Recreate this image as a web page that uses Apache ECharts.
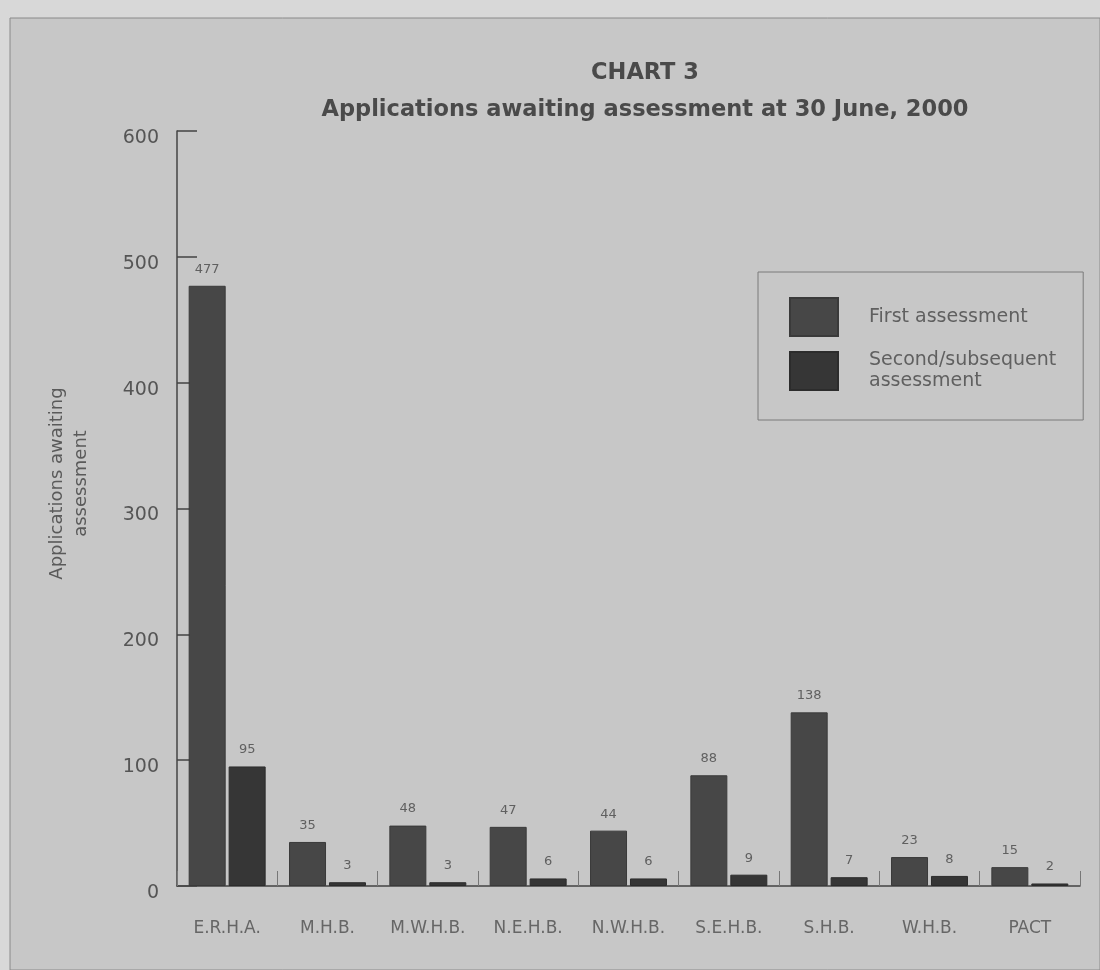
<!DOCTYPE html>
<html>
<head>
<meta charset="utf-8">
<title>Chart 3</title>
<script src="https://cdn.jsdelivr.net/npm/echarts@6/dist/echarts.min.js"></script>
<style>
  html, body { margin: 0; padding: 0; background: #d8d8d8; }
  #myChart { width: 1100px; height: 970px; }
</style>
</head>
<body>
<div id="myChart"></div>
<script>
var categories = ['E.R.H.A.', 'M.H.B.', 'M.W.H.B.', 'N.E.H.B.', 'N.W.H.B.', 'S.E.H.B.', 'S.H.B.', 'W.H.B.', 'PACT'];
var firstAssessment = [477, 35, 48, 47, 44, 88, 138, 23, 15];
var secondAssessment = [95, 3, 3, 6, 6, 9, 7, 8, 2];
var yTicks = [0, 100, 200, 300, 400, 500, 600];

var myChart = echarts.init(document.getElementById('myChart'));

// label above each bar
var barLabel = {
  show: true,
  position: 'top',
  distance: 10,
  color: '#606060',
  fontSize: 13,
  fontFamily: 'DejaVu Sans'
};

var option = {
  backgroundColor: '#d8d8d8',
  animation: false,
  textStyle: { fontFamily: 'DejaVu Sans' },
  graphic: [
    {
      type: 'rect',
      z: -10,
      shape: { x: 10, y: 18, width: 1090, height: 952 },
      style: { fill: '#c7c7c7', stroke: '#8a8a8a', lineWidth: 1 }
    }
  ],
  title: {
    text: 'CHART 3\nApplications awaiting assessment at 30 June, 2000',
    left: 640,
    top: 50,
    textAlign: 'center',
    textStyle: {
      fontFamily: 'DejaVu Sans',
      fontSize: 22.5,
      fontWeight: 'bold',
      color: '#4a4a4a',
      lineHeight: 37
    }
  },
  legend: {
    left: 758,
    top: 272,
    orient: 'vertical',
    data: ['First assessment', 'Second/subsequent\nassessment'],
    itemWidth: 48,
    itemHeight: 38,
    itemGap: 13,
    padding: [25, 27, 28, 31],
    borderColor: '#7a7a7a',
    borderWidth: 1,
    icon: 'rect',
    selectedMode: false,
    textStyle: {
      fontFamily: 'DejaVu Sans',
      fontSize: 19,
      color: '#606060',
      lineHeight: 21,
      padding: [0, 0, 0, 26]
    }
  },
  grid: {
    left: 177,
    right: 20,
    top: 131,
    bottom: 84
  },
  xAxis: {
    type: 'category',
    data: categories,
    axisLine: { lineStyle: { color: '#444', width: 1.5 } },
    axisTick: { show: true, inside: true, length: 15, lineStyle: { color: '#777' } },
    axisLabel: { color: '#666', fontSize: 17, margin: 34 }
  },
  yAxis: {
    type: 'value',
    min: yTicks[0],
    max: yTicks[yTicks.length - 1],
    interval: 100,
    name: 'Applications awaiting\nassessment',
    nameLocation: 'middle',
    nameRotate: 90,
    nameGap: 84,
    nameTextStyle: {
      color: '#5a5a5a',
      fontSize: 18,
      lineHeight: 24,
      padding: [0, 0, 0, 50]
    },
    splitLine: { show: false },
    axisLine: { show: true, lineStyle: { color: '#444', width: 1.5 } },
    axisTick: { show: true, inside: true, length: 20, lineStyle: { color: '#444', width: 1.5 } },
    axisLabel: { color: '#555', fontSize: 19, margin: 18, verticalAlign: 'top', lineHeight: 14 }
  },
  series: [
    {
      name: 'First assessment',
      type: 'bar',
      data: firstAssessment,
      barWidth: 37,
      barGap: '8%',
      itemStyle: { color: '#474747', borderColor: '#3a3a3a', borderWidth: 1 },
      label: barLabel
    },
    {
      name: 'Second/subsequent\nassessment',
      type: 'bar',
      data: secondAssessment,
      barWidth: 37,
      itemStyle: { color: '#363636', borderColor: '#2c2c2c', borderWidth: 1 },
      label: barLabel
    }
  ]
};
myChart.setOption(option);
</script>
</body>
</html>
